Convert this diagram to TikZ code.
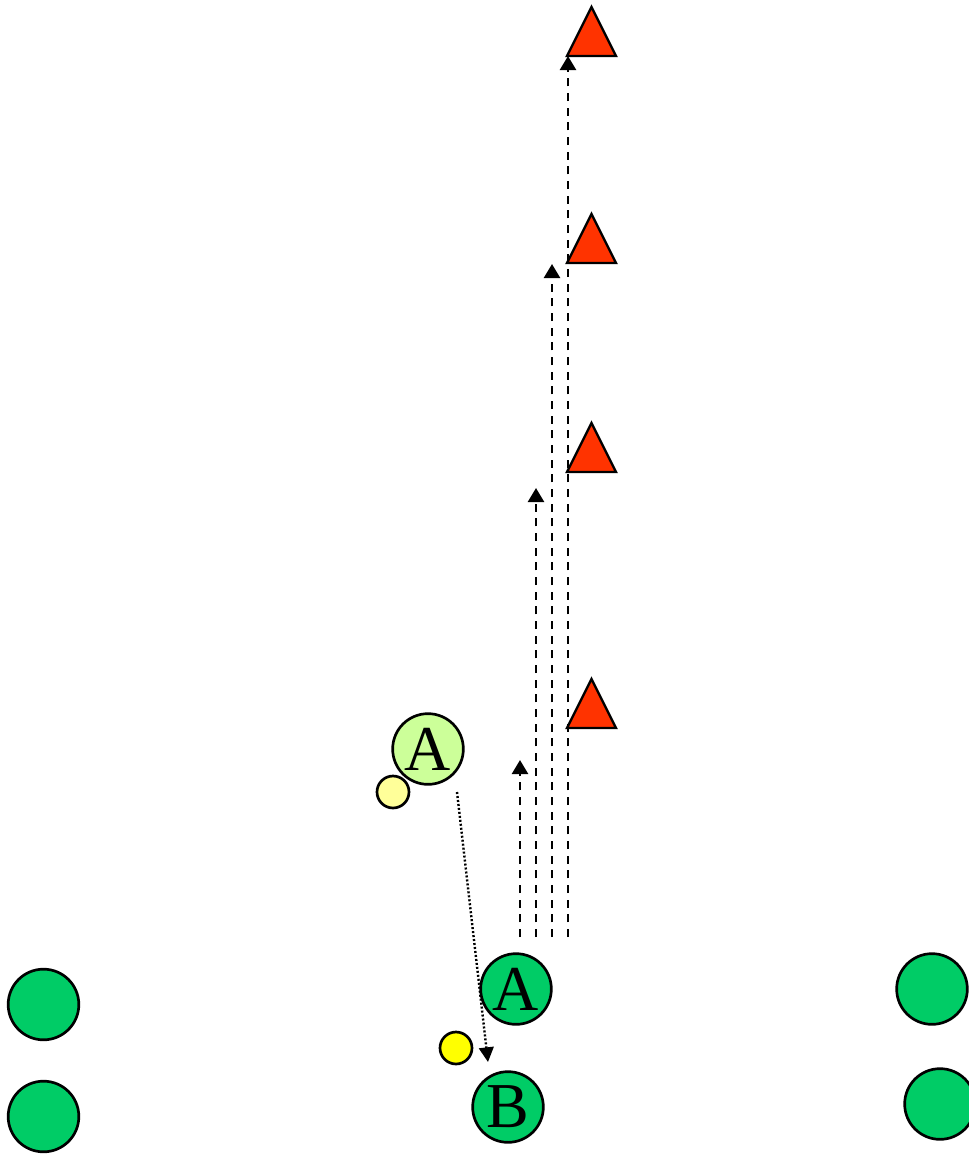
\documentclass[tikz,border=0pt]{standalone}
\usepackage{fontspec}
\setmainfont{Liberation Serif}
\usetikzlibrary{arrows.meta}
\definecolor{teamgreen}{HTML}{00CC66}
\definecolor{palegreen}{HTML}{CCFF99}
\definecolor{paleyellow}{HTML}{FFFF99}
\definecolor{ballyellow}{HTML}{FFFF00}
\definecolor{conered}{HTML}{FF3300}
\tikzset{
	player/.style={circle, draw, line width=2pt, fill=teamgreen, minimum size=53pt, inner sep=0pt,
			font=\fontsize{48}{48}\selectfont},
	ghost/.style={player, fill=palegreen},
	ball/.style={circle, draw, line width=2pt, fill=ballyellow, minimum size=24pt, inner sep=0pt},
	cone/.style={draw, line width=1.8pt, fill=conered, line join=miter},
	run/.style={line width=1.8pt, dash pattern=on 6pt off 5pt, -{Triangle[width=12pt, length=10.5pt]}},
	pass/.style={line width=1.8pt, dash pattern=on 1.5pt off 1.5pt, -{Triangle[width=11pt, length=11pt]}}
}

\begin{document}
\begin{tikzpicture}[x=0.75pt, y=-0.75pt]
	\useasboundingbox (0,0) rectangle (969,1154);

	% cones
	\foreach \ty in {56,263,472,728}
		\draw[cone] (567,\ty) -- (616,\ty) -- (591.5,\ty-49) -- cycle;

	% players
	\node[ghost] (a0) at (428,749) {A};
	\node[ball, fill=paleyellow] (b0) at (393,792) {};
	\node[player] (a1) at (516,989) {A};
	\node[ball] (b1) at (456,1048) {};
	\node[player] (bb) at (508,1107) {B};
	\node[player] (l1) at (43.5,1004.5) {};
	\node[player] (l2) at (43.5,1116.5) {};
	\node[player] (r1) at (932,989) {};
	\node[player] (r2) at (940,1104) {};

	% runs
	\coordinate (s1) at (520,937);
	\coordinate (s2) at (536,937);
	\coordinate (s3) at (552,937);
	\coordinate (s4) at (568,937);
	\coordinate (e1) at (520,760);
	\coordinate (e2) at (536,488);
	\coordinate (e3) at (552,264);
	\coordinate (e4) at (568,56);
	\draw[run] (s1) -- (e1);
	\draw[run] (s2) -- (e2);
	\draw[run] (s3) -- (e3);
	\draw[run] (s4) -- (e4);

	% pass
	\coordinate (p0) at (457,792);
	\coordinate (p1) at (488,1062);
	\draw[pass] (p0) -- (p1);
\end{tikzpicture}
\end{document}
